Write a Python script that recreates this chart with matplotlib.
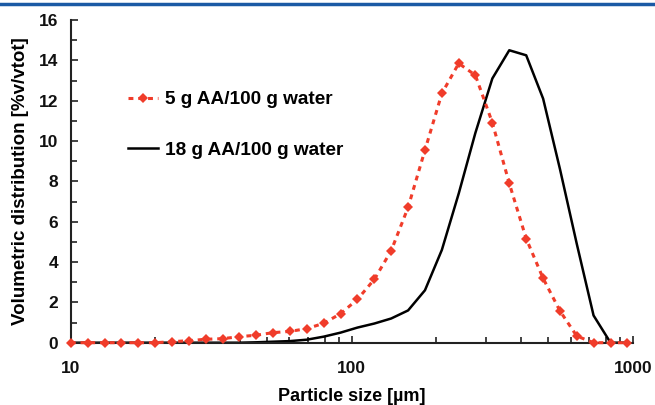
import matplotlib
matplotlib.use("Agg")
import matplotlib.pyplot as plt
from matplotlib.lines import Line2D
from matplotlib.ticker import LogLocator, MultipleLocator, FixedLocator, NullFormatter

# particle size classes (um), laser diffraction grid
sizes = [10, 11.5, 13.2, 15.1, 17.4, 20.0, 22.9, 26.3, 30.2, 34.7, 39.8, 45.7,
         52.5, 60.3, 69.2, 79.4, 91.2, 104.7, 120.2, 138.0, 158.5, 182.0,
         209.0, 240.0, 275.0, 316.0, 363.0, 417.0, 479.0, 550.0, 631.0,
         724.0, 832.0, 955.0]

# volumetric distribution [%v/vtot]
aa_5g = [0, 0, 0, 0, 0, 0, 0.05, 0.1, 0.17, 0.2, 0.3, 0.37,
         0.5, 0.56, 0.7, 0.96, 1.44, 2.15, 3.14, 4.56, 6.71, 9.55,
         12.36, 13.85, 13.26, 10.91, 7.9, 5.16, 3.19, 1.57, 0.33,
         0, 0, 0]
aa_18g = [0, 0, 0, 0, 0, 0, 0, 0, 0, 0, 0, 0.02,
          0.05, 0.08, 0.15, 0.3, 0.5, 0.75, 0.95, 1.2, 1.6, 2.6,
          4.6, 7.4, 10.4, 13.1, 14.5, 14.25, 12.1, 8.6, 4.9,
          1.35, 0, 0]

labels = ["5 g AA/100 g water", "18 g AA/100 g water"]

plt.rcParams['font.family'] = ['Liberation Sans', 'DejaVu Sans']
plt.rcParams['font.weight'] = 'bold'

W, H = 655, 405
fig = plt.figure(figsize=(W / 100, H / 100), dpi=100)
ax = fig.add_axes([70.7 / W, 62.3 / H, (633 - 70.7) / W, (342.7 - 20) / H])

red = "#f03c2a"
ax.plot(sizes, aa_5g, color=red, linestyle=(0, (1.6, 1.6)), linewidth=2.2,
        marker="D", markersize=5, markeredgewidth=0, clip_on=False, zorder=3,
        label=labels[0])
ax.plot(sizes, aa_18g, color="black", linewidth=1.8, clip_on=False, zorder=2,
        label=labels[1])

ax.set_xscale("log")
ax.set_xlim(10, 1000)
ax.set_ylim(0, 16)

ax.xaxis.set_major_locator(FixedLocator([10, 100, 1000]))
ax.xaxis.set_major_formatter(matplotlib.ticker.FixedFormatter(["10", "100", "1000"]))
ax.xaxis.set_minor_locator(LogLocator(base=10, subs=range(2, 10)))
ax.xaxis.set_minor_formatter(NullFormatter())
ax.yaxis.set_major_locator(MultipleLocator(2))
ax.yaxis.set_minor_locator(MultipleLocator(1))

ax.tick_params(axis="both", which="both", direction="in", width=1.2,
               labelsize=12.5, colors="#222222", labelcolor="#111111")
ax.tick_params(axis="both", which="major", length=5)
ax.tick_params(axis="both", which="minor", length=4)
ax.tick_params(axis="y", pad=9)
ax.tick_params(axis="x", pad=13)

for side in ("top", "right"):
    ax.spines[side].set_visible(False)
for side in ("left", "bottom"):
    ax.spines[side].set_linewidth(1.5)
    ax.spines[side].set_color("#222222")

ax.set_xlabel("Particle size [\u00b5m]", fontsize=13, fontweight="bold", labelpad=9)
ax.set_ylabel("Volumetric distribution [%v/vtot]", fontsize=13.5,
              fontweight="bold", labelpad=7)

ax.legend(loc="upper left", bbox_to_anchor=(128 / W, 1 - 91 / H),
          bbox_transform=fig.transFigure, frameon=False, fontsize=13.7,
          handlelength=1.6, handletextpad=0.37, labelspacing=1.75,
          borderpad=0, borderaxespad=0)

# blue rule across the top of the page
fig.add_artist(Line2D([0, 1], [1 - 3.5 / H, 1 - 3.5 / H], transform=fig.transFigure,
                      color="#1b5aa5", linewidth=2.5))

fig.savefig("out.png", dpi=100)
